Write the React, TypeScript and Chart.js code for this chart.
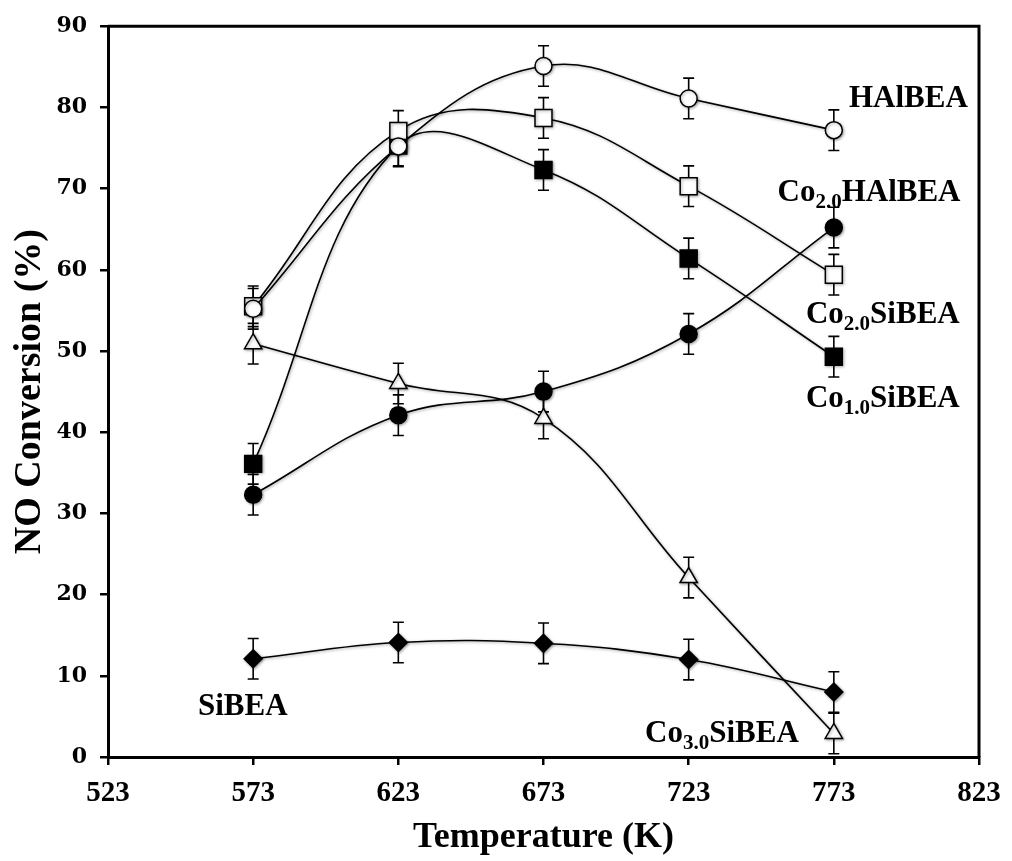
import React, { useEffect, useRef } from "react";
import { Chart, registerables } from "chart.js";

Chart.register(...registerables);

// ---- data ----
const temperatures = [573, 623, 673, 723, 773];
const xTickValues = [523, 573, 623, 673, 723, 773, 823];
const yTickValues = [0, 10, 20, 30, 40, 50, 60, 70, 80, 90];

const hAlBEA = [55.2, 75.2, 85.1, 81.1, 77.2];
const co20SiBEA = [55.5, 77.1, 78.7, 70.3, 59.4];
const co10SiBEA = [36.1, 75.3, 72.3, 61.4, 49.3];
const co20HAlBEA = [32.3, 42.1, 45.0, 52.1, 65.2];
const co30SiBEA = [50.9, 46.0, 41.7, 22.1, 2.9];
const siBEA = [12.1, 14.1, 14.0, 12.0, 8.0];
const errorSize = [2.5, 2.5, 2.5, 2.5, 2.5];

// label text segments: [text, isSubscript]
const labelHAlBEA: [string, boolean][] = [["HAlBEA", false]];
const labelCo20HAlBEA: [string, boolean][] = [["Co", false], ["2.0", true], ["HAlBEA", false]];
const labelCo20SiBEA: [string, boolean][] = [["Co", false], ["2.0", true], ["SiBEA", false]];
const labelCo10SiBEA: [string, boolean][] = [["Co", false], ["1.0", true], ["SiBEA", false]];
const labelSiBEA: [string, boolean][] = [["SiBEA", false]];
const labelCo30SiBEA: [string, boolean][] = [["Co", false], ["3.0", true], ["SiBEA", false]];

// label anchors (data units: left x, middle y)
const labelAnchorX = [778.2, 753.6, 763.4, 763.4, 554.0, 708.0];
const labelAnchorY = [81.4, 69.8, 54.7, 44.4, 6.5, 3.2];

const SERIF = '"Liberation Serif", "Times New Roman", serif';

function toPoints(vals: number[]) {
  return temperatures.map((t, i) => ({ x: t, y: vals[i] }));
}

export default function App() {
  const ref = useRef<HTMLCanvasElement | null>(null);

  useEffect(() => {
    if (!ref.current) return;

    const seriesAll = [hAlBEA, co20SiBEA, co10SiBEA, co20HAlBEA, co30SiBEA, siBEA];

    const errorBarPlugin = {
      id: "errorBars",
      beforeDatasetsDraw(chart: any) {
        const { ctx, scales } = chart;
        const xs = scales.x;
        const ys = scales.y;
        ctx.save();
        ctx.strokeStyle = "#000";
        ctx.lineWidth = 1.6;
        seriesAll.forEach((vals) => {
          vals.forEach((v, i) => {
            const px = xs.getPixelForValue(temperatures[i]);
            const top = ys.getPixelForValue(v + errorSize[i]);
            const bot = ys.getPixelForValue(v - errorSize[i]);
            ctx.beginPath();
            ctx.moveTo(px, top);
            ctx.lineTo(px, bot);
            ctx.moveTo(px - 5.5, top);
            ctx.lineTo(px + 5.5, top);
            ctx.moveTo(px - 5.5, bot);
            ctx.lineTo(px + 5.5, bot);
            ctx.stroke();
          });
        });
        ctx.restore();
        ctx.save();
        ctx.shadowColor = "rgba(0,0,0,0.35)";
        ctx.shadowBlur = 3;
        ctx.shadowOffsetX = 1;
        ctx.shadowOffsetY = 1;
      },
      afterDatasetsDraw(chart: any) {
        chart.ctx.restore();
      },
    };

    const framePlugin = {
      id: "frame",
      afterDraw(chart: any) {
        const { ctx, chartArea, scales } = chart;
        ctx.save();
        ctx.strokeStyle = "#000";
        ctx.lineWidth = 3;
        ctx.beginPath();
        ctx.moveTo(chartArea.left, chartArea.top);
        ctx.lineTo(chartArea.right, chartArea.top);
        ctx.lineTo(chartArea.right, chartArea.bottom);
        ctx.stroke();

        const labels = [labelHAlBEA, labelCo20HAlBEA, labelCo20SiBEA, labelCo10SiBEA, labelSiBEA, labelCo30SiBEA];
        ctx.fillStyle = "#000";
        ctx.textBaseline = "alphabetic";
        ctx.textAlign = "left";
        labels.forEach((parts, k) => {
          let cx = scales.x.getPixelForValue(labelAnchorX[k]);
          const cy = scales.y.getPixelForValue(labelAnchorY[k]);
          const base = cy + 10.5;
          parts.forEach(([text, sub]) => {
            ctx.font = sub ? `bold 21px ${SERIF}` : `bold 31px ${SERIF}`;
            ctx.fillText(text, cx, sub ? base + 7 : base);
            cx += ctx.measureText(text).width;
          });
        });
        ctx.restore();
      },
    };

    const mk = (vals: number[], style: string, radius: number, fill: string) => ({
      data: toPoints(vals),
      borderColor: "#000",
      borderWidth: 1.6,
      pointStyle: style,
      pointRadius: radius,
      pointHoverRadius: radius,
      pointBackgroundColor: fill,
      pointBorderColor: "#000",
      pointBorderWidth: 1.5,
      tension: 0.4,
      fill: false,
    });

    const chart = new Chart(ref.current, {
      type: "line",
      data: {
        datasets: [
          { label: "HAlBEA", ...mk(hAlBEA, "circle", 8.5, "#fff") },
          { label: "Co2.0SiBEA", ...mk(co20SiBEA, "rect", 12, "#fff") },
          { label: "Co1.0SiBEA", ...mk(co10SiBEA, "rect", 12, "#000") },
          { label: "Co2.0HAlBEA", ...mk(co20HAlBEA, "circle", 8.5, "#000") },
          { label: "Co3.0SiBEA", ...mk(co30SiBEA, "triangle", 10, "#fff") },
          { label: "SiBEA", ...mk(siBEA, "rectRot", 9, "#000") },
        ] as any,
      },
      options: {
        animation: false,
        responsive: false,
        maintainAspectRatio: false,
        events: [],
        layout: { padding: { top: 24, right: 33, left: 0, bottom: 0 } },
        plugins: {
          legend: { display: false },
          tooltip: { enabled: false },
        },
        scales: {
          x: {
            type: "linear",
            min: 523,
            max: 823,
            afterBuildTicks: (s: any) => {
              s.ticks = xTickValues.map((v) => ({ value: v }));
            },
            afterFit: (s: any) => {
              s.height = 104;
            },
            grid: {
              drawOnChartArea: false,
              drawTicks: true,
              tickLength: 8,
              color: "#000",
              lineWidth: 2.5,
            },
            border: { display: true, color: "#000", width: 3 },
            ticks: {
              color: "#000",
              font: { family: SERIF, size: 29, weight: "bold" },
              padding: 11,
              maxRotation: 0,
              autoSkip: false,
              callback: (v: any) => String(v),
            },
            title: {
              display: true,
              text: "Temperature (K)",
              color: "#000",
              font: { family: SERIF, size: 36, weight: "bold" },
              padding: { top: 0, bottom: 2 },
            },
          },
          y: {
            type: "linear",
            min: 0,
            max: 90,
            afterBuildTicks: (s: any) => {
              s.ticks = yTickValues.map((v) => ({ value: v }));
            },
            afterFit: (s: any) => {
              s.width = 108;
            },
            grid: {
              drawOnChartArea: false,
              drawTicks: true,
              tickLength: 8,
              color: "#000",
              lineWidth: 2.5,
            },
            border: { display: true, color: "#000", width: 3 },
            ticks: {
              color: "#000",
              font: { family: '"DejaVu Serif", serif', size: 22, weight: "bold" },
              padding: 13,
              callback: (v: any) => String(v),
            },
            title: {
              display: true,
              text: "NO Conversion (%)",
              color: "#000",
              font: { family: SERIF, size: 38, weight: "bold" },
              padding: { top: 7, bottom: 0 },
            },
          },
        },
      },
      plugins: [errorBarPlugin, framePlugin],
    } as any);

    return () => {
      chart.destroy();
    };
  }, []);

  return (
    <div style={{ position: "absolute", left: 0, top: 0, width: 1012, height: 861, background: "#fff" }}>
      <canvas ref={ref} width={1012} height={861} style={{ display: "block" }} />
    </div>
  );
}
